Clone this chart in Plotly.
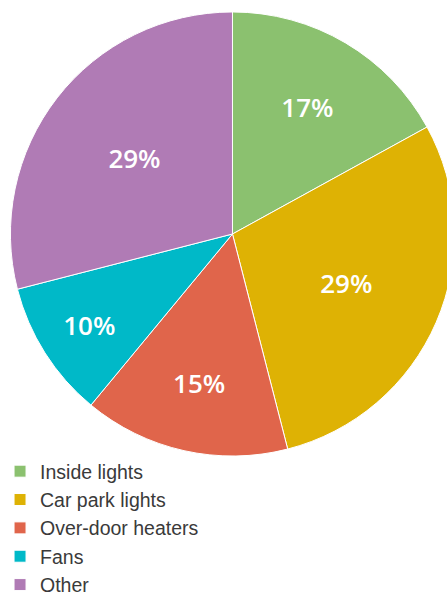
import plotly.graph_objects as go

labels = ["Inside lights", "Car park lights", "Over-door heaters", "Fans", "Other"]
values = [17, 29, 15, 10, 29]
colors = ["#8bc16f", "#deb204", "#e0654b", "#00b9c8", "#b07bb5"]

W, H = 455, 620
cx, cy, r = 230.5, 234, 224

fig = go.Figure(go.Pie(
    labels=labels,
    values=values,
    sort=False,
    direction="clockwise",
    rotation=0,
    marker=dict(colors=colors, line=dict(color="white", width=1)),
    texttemplate="%{percent:.0%}",
    textposition="inside",
    insidetextorientation="horizontal",
    textfont=dict(family="Open Sans", size=26, color="white", weight=600),
    domain=dict(x=[(cx - r) / W, (cx + r) / W],
                y=[(H - (cy + r)) / H, (H - (cy - r)) / H]),
    hoverinfo="label+percent",
))

fig.update_layout(
    width=W, height=H,
    margin=dict(l=0, r=0, t=0, b=0),
    paper_bgcolor="white",
    plot_bgcolor="white",
    showlegend=True,
    legend=dict(
        x=-4 / W, xanchor="left",
        y=(H - 452) / H, yanchor="top",
        font=dict(family="Liberation Sans", size=19.5, color="#3a3a3a"),
        bgcolor="rgba(0,0,0,0)",
        traceorder="normal",
    ),
)

fig.write_html(
    "out.html",
    config={"displayModeBar": False},
    post_script="document.body.style.margin='0';document.body.style.overflow='hidden';document.documentElement.style.overflow='hidden';",
)
